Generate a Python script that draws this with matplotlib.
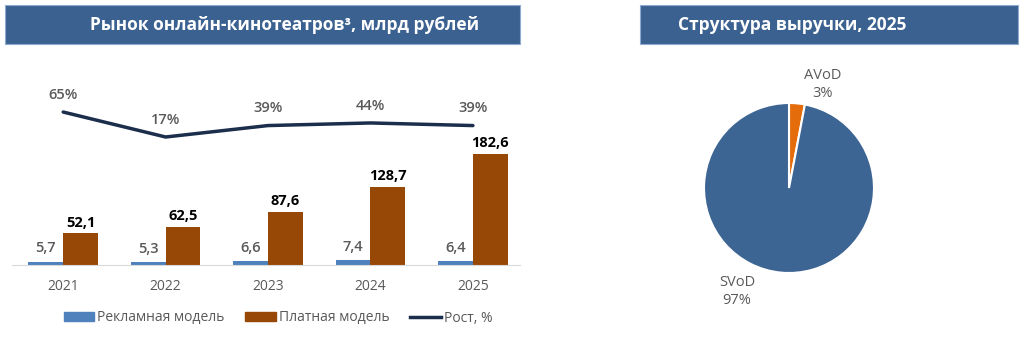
import matplotlib.pyplot as plt
import numpy as np
from matplotlib.patches import Rectangle, Patch
from matplotlib.lines import Line2D

plt.rcParams['font.family'] = ['Open Sans', 'DejaVu Sans']

years = ['2021', '2022', '2023', '2024', '2025']
ad_model = [5.7, 5.3, 6.6, 7.4, 6.4]
paid_model = [52.1, 62.5, 87.6, 128.7, 182.6]
growth = [65, 17, 39, 44, 39]

pie_labels = ['AVoD', 'SVoD']
pie_shares = [3, 97]

BANNER = '#3a6190'
BLUE = '#4f81bd'
BROWN = '#974706'
NAVY = '#1b2e4b'
GRAY = '#595959'

W, H = 1024, 339
fig = plt.figure(figsize=(W / 100, H / 100), dpi=100)


def px(x0, y0, x1, y1):
    # pixel box (top-left origin) -> figure fraction rect
    return [x0 / W, 1 - y1 / H, (x1 - x0) / W, (y1 - y0) / H]


# title banners
for (x0, x1, title) in [(5, 520, 'Рынок онлайн-кинотеатров³, млрд рублей'),
                        (640, 1018, 'Структура выручки, 2025')]:
    r = px(x0, 5, x1, 44)
    fig.patches.append(Rectangle((r[0], r[1]), r[2], r[3], transform=fig.transFigure,
                                 facecolor=BANNER, edgecolor='#8faad0', lw=0.8))
    cx = (285 if x0 < 100 else 792) / W
    fig.text(cx, r[1] + r[3] / 2, title, color='white', fontsize=12.5,
             fontweight='bold', ha='center', va='center')

# bar chart
ax = fig.add_axes(px(12, 60, 520, 265))
x = np.arange(len(years))
bw = 0.34
b1 = ax.bar(x - bw / 2, ad_model, bw, color=BLUE)
b2 = ax.bar(x + bw / 2, paid_model, bw, color=BROWN)
ax.set_xlim(-0.5, 4.46)
ax.set_ylim(0, 337)
for i in range(len(years)):
    ax.text(x[i] - bw / 2, ad_model[i] + 10, f'{ad_model[i]:.1f}'.replace('.', ','),
            ha='center', va='bottom', color=GRAY, fontsize=10.5, fontweight='semibold')
    ax.text(x[i] + bw / 2, paid_model[i] + 6, f'{paid_model[i]:.1f}'.replace('.', ','),
            ha='center', va='bottom', color='black', fontsize=10.5, fontweight='bold')

for s in ['top', 'right', 'left']:
    ax.spines[s].set_visible(False)
ax.spines['bottom'].set_color('#d9d9d9')
ax.set_yticks([])
ax.set_xticks(x)
ax.set_xticklabels(years, color=GRAY, fontsize=10)
ax.tick_params(axis='x', length=0, pad=10)

ax2 = ax.twinx()
ax2.plot(x, growth, color=NAVY, lw=2.5, solid_capstyle='round')
ax2.set_ylim(-229, 165)
ax2.axis('off')
for i in range(len(years)):
    ax2.text(x[i], growth[i] + 20, f'{growth[i]}%', ha='center', va='bottom',
             color=GRAY, fontsize=10.5, fontweight='semibold')

handles = [Patch(color=BLUE), Patch(color=BROWN), Line2D([], [], color=NAVY, lw=2.5)]
fig.legend(handles, ['Рекламная модель', 'Платная модель', 'Рост, %'],
           loc='center', bbox_to_anchor=(278 / W, 1 - 318 / H), ncol=3, frameon=False,
           fontsize=10, labelcolor=GRAY, handlelength=2.2, handleheight=0.6,
           handletextpad=0.2, columnspacing=1.5)

# pie chart
axp = fig.add_axes(px(704, 103, 874, 273))
axp.pie(pie_shares, colors=['#e46c0a', '#3d6594'], startangle=90, counterclock=False,
        wedgeprops=dict(edgecolor='white', linewidth=1.5))
axp.set_xlim(-1, 1)
axp.set_ylim(-1, 1)
axp.set_aspect('auto')
for (lx, ly), name, share in zip([(0.4, 1.22), (-0.61, -1.22)], pie_labels, pie_shares):
    axp.text(lx, ly, f'{name}\n{share}%', ha='center', va='center', color=GRAY,
             fontsize=10.5, linespacing=1.25, clip_on=False)

fig.savefig('out.png', dpi=100, facecolor='white')
